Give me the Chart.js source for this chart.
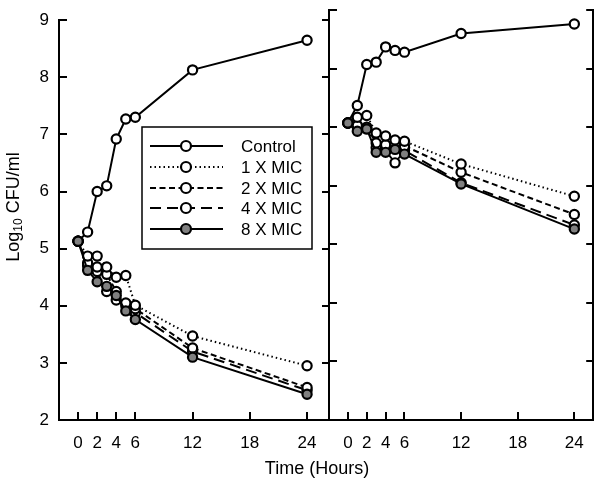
<!DOCTYPE html>
<html>
<head>
<meta charset="utf-8">
<script src="https://cdn.jsdelivr.net/npm/chart.js@4.4.1/dist/chart.umd.min.js"></script>
<style>
body { margin: 0; background: #fff; }
#wrap { position: relative; width: 600px; height: 483px; }
#wrap canvas { position: absolute; left: 0; top: 0; }
</style>
</head>
<body>
<div id="wrap">
  <canvas id="leftChart" width="600" height="483"></canvas>
  <canvas id="rightChart" width="600" height="483"></canvas>
</div>
<script>
// 時間 (hours)
const hours = [0, 1, 2, 3, 4, 5, 6, 12, 24];
const xTicks = [0, 2, 4, 6, 12, 18, 24];
const yTicks = [2, 3, 4, 5, 6, 7, 8, 9];
const seriesNames = ['Control', '1 X MIC', '2 X MIC', '4 X MIC', '8 X MIC'];

// left panel
const leftControl = [5.13, 5.29, 6.0, 6.1, 6.92, 7.27, 7.3, 8.13, 8.65];
const left1X = [5.13, 4.87, 4.87, 4.68, 4.5, 4.53, 4.01, 3.47, 2.95];
const left2X = [5.13, 4.75, 4.68, 4.55, 4.25, 4.05, 3.95, 3.26, 2.57];
const left4X = [5.13, 4.7, 4.6, 4.25, 4.1, 4.0, 3.88, 3.2, 2.52];
const left8X = [5.13, 4.62, 4.42, 4.34, 4.18, 3.91, 3.76, 3.1, 2.45];

// right panel
const rightControl = [7.07, 7.37, 8.07, 8.11, 8.37, 8.31, 8.28, 8.6, 8.76];
const right1X = [7.07, 7.17, 7.2, 6.9, 6.85, 6.78, 6.76, 6.37, 5.82];
const right2X = [7.07, 7.03, 7.0, 6.73, 6.7, 6.7, 6.68, 6.23, 5.51];
const right4X = [7.07, 7.0, 6.97, 6.65, 6.6, 6.39, 6.6, 6.05, 5.33];
const right8X = [7.07, 6.93, 6.97, 6.57, 6.57, 6.62, 6.54, 6.03, 5.26];

// スタイル
const dashes = [[], [1.5, 3], [6, 3.5], [11, 6], []];
const fills = ['#fff', '#fff', '#fff', '#fff', '#808080'];
const drawOrder = [1, 2, 3, 4, 0];
const FONT = '"Liberation Sans", Arial, sans-serif';

function makeSets(vals) {
    return seriesNames.map((name, i) => ({
        label: name,
        data: hours.map((h, j) => ({ x: h, y: vals[i][j] })),
        borderColor: '#000',
        borderWidth: 2,
        borderDash: dashes[i],
        pointRadius: 4.6,
        pointBorderWidth: 2.2,
        pointBackgroundColor: fills[i],
        pointBorderColor: '#000',
        order: drawOrder[i],
        tension: 0
    }));
}

// 内向きの目盛り
const inwardTicks = {
    id: 'inwardTicks',
    afterDraw(chart, args, opts) {
        const { ctx, chartArea: a, scales } = chart;
        ctx.save();
        ctx.strokeStyle = '#000';
        ctx.lineWidth = 2;
        ctx.beginPath();
        xTicks.forEach(v => {
            const px = Math.round(scales.x.getPixelForValue(v));
            ctx.moveTo(px, a.bottom);
            ctx.lineTo(px, a.bottom - 8);
        });
        yTicks.forEach(v => {
            const py = Math.round(scales.y.getPixelForValue(v));
            ctx.moveTo(a.left, py);
            ctx.lineTo(a.left + 8, py);
            if (opts.right) {
                ctx.moveTo(a.right, py);
                ctx.lineTo(a.right - 7, py);
            }
        });
        ctx.stroke();
        ctx.restore();
    }
};

// 凡例とタイトル
const labelsPlugin = {
    id: 'labelsPlugin',
    afterDraw(chart, args, opts) {
        if (!opts.show) return;
        const ctx = chart.ctx;
        ctx.save();
        // legend box
        ctx.strokeStyle = '#000';
        ctx.lineWidth = 1.5;
        ctx.strokeRect(142, 127, 170, 122);
        const rowY = [146, 167, 188, 208, 229];
        chart.data.datasets.forEach((ds, i) => {
            const y = rowY[i];
            ctx.beginPath();
            ctx.setLineDash(ds.borderDash);
            ctx.lineWidth = 2;
            ctx.moveTo(150, y);
            ctx.lineTo(223, y);
            ctx.stroke();
            ctx.setLineDash([]);
            ctx.beginPath();
            ctx.arc(186, y, 5, 0, Math.PI * 2);
            ctx.fillStyle = ds.pointBackgroundColor;
            ctx.fill();
            ctx.lineWidth = 2.2;
            ctx.stroke();
            ctx.fillStyle = '#000';
            ctx.font = '17px ' + FONT;
            ctx.textAlign = 'left';
            ctx.textBaseline = 'middle';
            ctx.fillText(ds.label, 241, y + 1);
        });

        // x title
        ctx.font = '18px ' + FONT;
        ctx.textAlign = 'center';
        ctx.textBaseline = 'middle';
        ctx.fillText('Time (Hours)', 317, 469);

        // y title  Log10 CFU/ml
        ctx.translate(14, 207);
        ctx.rotate(-Math.PI / 2);
        ctx.textAlign = 'left';
        const big = '18px ' + FONT, small = '12px ' + FONT;
        ctx.font = big;
        const w1 = ctx.measureText('Log').width;
        const w3 = ctx.measureText(' CFU/ml').width;
        ctx.font = small;
        const w2 = ctx.measureText('10').width;
        let x0 = -(w1 + w2 + w3) / 2;
        ctx.font = big;
        ctx.fillText('Log', x0, 0);
        ctx.font = small;
        ctx.fillText('10', x0 + w1, 5);
        ctx.font = big;
        ctx.fillText(' CFU/ml', x0 + w1 + w2, 0);
        ctx.restore();
    }
};

function xScale(maxHour) {
    return {
        type: 'linear',
        min: -2,
        max: maxHour,
        afterBuildTicks: s => { s.ticks = xTicks.map(v => ({ value: v })); },
        afterFit: s => { s.height = 63; },
        grid: { display: false, drawTicks: false },
        border: { display: true, color: '#000', width: 2 },
        ticks: { color: '#000', font: { family: FONT, size: 17 }, padding: 13, maxRotation: 0, autoSkip: false }
    };
}

function yScale(width, showLabels, pos) {
    return {
        type: 'linear',
        position: pos,
        min: 2,
        max: 9,
        afterBuildTicks: s => { s.ticks = yTicks.map(v => ({ value: v })); },
        afterFit: s => { s.width = width; },
        grid: { display: false, drawTicks: false },
        border: { display: true, color: '#000', width: 2 },
        ticks: { display: showLabels, color: '#000', font: { family: FONT, size: 17 }, padding: 10 }
    };
}

const leftConfig = {
    type: 'line',
    data: { datasets: makeSets([leftControl, left1X, left2X, left4X, left8X]) },
    options: {
        responsive: false,
        animation: false,
        layout: { padding: { top: 10, right: 271, left: 0, bottom: 0 } },
        scales: { x: xScale(26.3), y: yScale(59, true, 'left') },
        plugins: {
            legend: { display: false },
            tooltip: { enabled: false },
            inwardTicks: { right: true },
            labelsPlugin: { show: true }
        }
    },
    plugins: [inwardTicks, labelsPlugin]
};

const rightConfig = {
    type: 'line',
    data: { datasets: makeSets([rightControl, right1X, right2X, right4X, right8X]) },
    options: {
        responsive: false,
        animation: false,
        layout: { padding: { top: 10, right: 0, left: 0, bottom: 0 } },
        scales: { x: xScale(26.0), y: yScale(329, false, 'left'), y2: yScale(4, false, 'right') },
        plugins: {
            legend: { display: false },
            tooltip: { enabled: false },
            inwardTicks: { right: true },
            labelsPlugin: { show: false }
        }
    },
    plugins: [inwardTicks, labelsPlugin]
};

new Chart(document.getElementById('leftChart'), leftConfig);
new Chart(document.getElementById('rightChart'), rightConfig);
</script>
</body>
</html>
